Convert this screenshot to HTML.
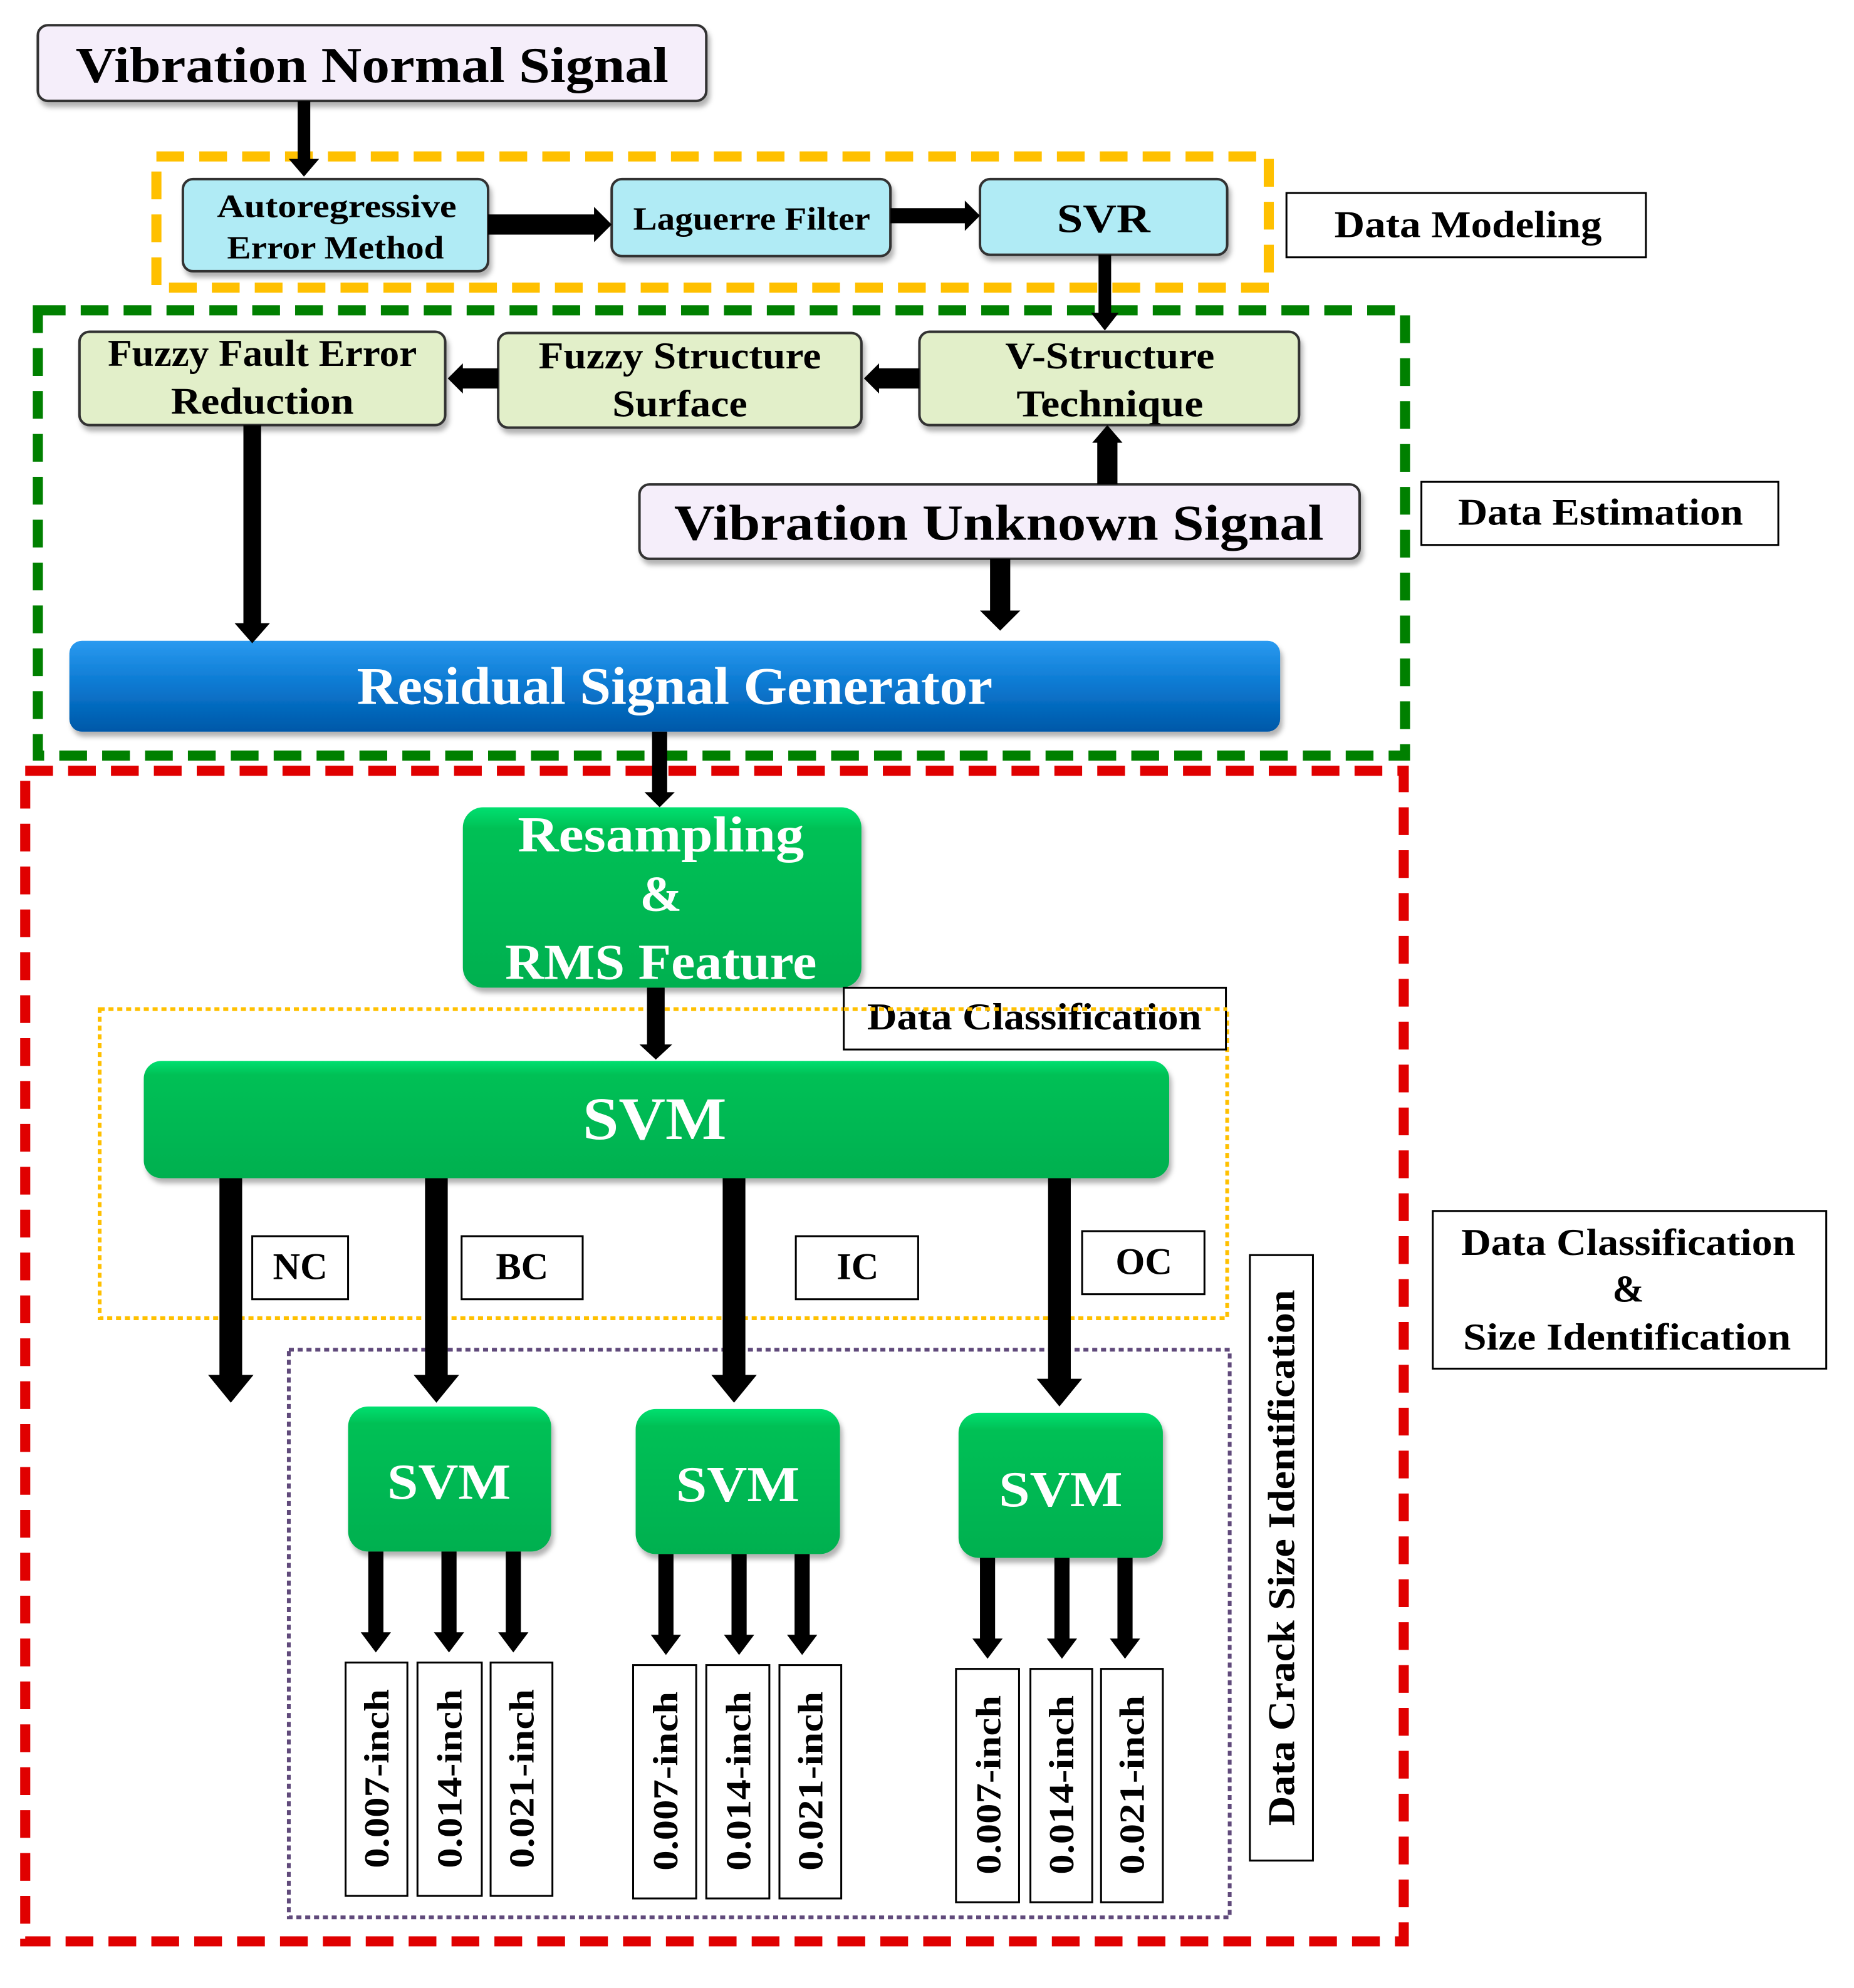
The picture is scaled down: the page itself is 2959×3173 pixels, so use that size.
<!DOCTYPE html>
<html><head><meta charset="utf-8"><style>
html,body{margin:0;padding:0;background:#fff;}
svg{display:block;}
text{font-family:"Liberation Serif",serif;font-weight:bold;}
</style></head><body>
<svg width="2959" height="3173" viewBox="0 0 1470 1576" preserveAspectRatio="none" xmlns="http://www.w3.org/2000/svg">
<defs>
<linearGradient id="blue" x1="0" y1="0" x2="0" y2="1"><stop offset="0" stop-color="#2a9af0"/><stop offset="0.5" stop-color="#0a78d0"/><stop offset="1" stop-color="#0058a8"/></linearGradient>
<linearGradient id="grn" x1="0" y1="0" x2="0" y2="1"><stop offset="0" stop-color="#00e070"/><stop offset="0.12" stop-color="#00c055"/><stop offset="1" stop-color="#00b050"/></linearGradient>
<filter id="sh" x="-5%" y="-5%" width="115%" height="130%"><feDropShadow dx="2" dy="4" stdDeviation="2" flood-color="#000" flood-opacity="0.3"/></filter>
</defs>

<!-- dashed groups -->
<rect x="124" y="124" width="882" height="104" fill="none" stroke="#ffc000" stroke-width="8" stroke-dasharray="22 12"/>
<rect x="30" y="246" width="1084" height="353" fill="none" stroke="#008000" stroke-width="8" stroke-dasharray="22 12"/>
<rect x="20" y="611" width="1093" height="928" fill="none" stroke="#e00000" stroke-width="8" stroke-dasharray="22 12"/>
<rect x="79" y="800" width="894" height="245" fill="none" stroke="#ffc000" stroke-width="3" stroke-dasharray="4 3"/>
<rect x="229" y="1070" width="746" height="450" fill="none" stroke="#604a7b" stroke-width="3" stroke-dasharray="4 3"/>

<!-- top boxes -->
<rect x="30" y="20" width="530" height="60" rx="8" fill="#f5eefa" stroke="#333" stroke-width="2" filter="url(#sh)"/>
<text x="295" y="65" font-size="40" text-anchor="middle" textLength="470" lengthAdjust="spacingAndGlyphs">Vibration Normal Signal</text>

<rect x="145" y="142" width="242" height="73" rx="8" fill="#b0ebf5" stroke="#333" stroke-width="2" filter="url(#sh)"/>
<text x="267" y="172" font-size="26" text-anchor="middle" textLength="190" lengthAdjust="spacingAndGlyphs">Autoregressive</text>
<text x="266" y="205" font-size="26" text-anchor="middle" textLength="172" lengthAdjust="spacingAndGlyphs">Error Method</text>

<rect x="485" y="142" width="221" height="61" rx="8" fill="#b0ebf5" stroke="#333" stroke-width="2" filter="url(#sh)"/>
<text x="596" y="182" font-size="26" text-anchor="middle" textLength="188" lengthAdjust="spacingAndGlyphs">Laguerre Filter</text>

<rect x="777" y="142" width="196" height="60" rx="8" fill="#b0ebf5" stroke="#333" stroke-width="2" filter="url(#sh)"/>
<text x="875" y="184" font-size="32" text-anchor="middle" textLength="74" lengthAdjust="spacingAndGlyphs">SVR</text>

<rect x="1020" y="153" width="285" height="51" fill="#fff" stroke="#000" stroke-width="1.5"/>
<text x="1164" y="188" font-size="30" text-anchor="middle" textLength="212" lengthAdjust="spacingAndGlyphs">Data Modeling</text>

<!-- estimation boxes -->
<rect x="63" y="263" width="290" height="74" rx="8" fill="#e2efc9" stroke="#333" stroke-width="2" filter="url(#sh)"/>
<text x="208" y="290" font-size="30" text-anchor="middle" textLength="245" lengthAdjust="spacingAndGlyphs">Fuzzy Fault Error</text>
<text x="208" y="328" font-size="30" text-anchor="middle" textLength="145" lengthAdjust="spacingAndGlyphs">Reduction</text>

<rect x="395" y="264" width="288" height="75" rx="8" fill="#e2efc9" stroke="#333" stroke-width="2" filter="url(#sh)"/>
<text x="539" y="292" font-size="30" text-anchor="middle" textLength="224" lengthAdjust="spacingAndGlyphs">Fuzzy Structure</text>
<text x="539" y="330" font-size="30" text-anchor="middle" textLength="107" lengthAdjust="spacingAndGlyphs">Surface</text>

<rect x="729" y="263" width="301" height="74" rx="8" fill="#e2efc9" stroke="#333" stroke-width="2" filter="url(#sh)"/>
<text x="880" y="292" font-size="30" text-anchor="middle" textLength="166" lengthAdjust="spacingAndGlyphs">V-Structure</text>
<text x="880" y="330" font-size="30" text-anchor="middle" textLength="148" lengthAdjust="spacingAndGlyphs">Technique</text>

<rect x="507" y="384" width="571" height="59" rx="8" fill="#f5eefa" stroke="#333" stroke-width="2" filter="url(#sh)"/>
<text x="792" y="428" font-size="40" text-anchor="middle" textLength="515" lengthAdjust="spacingAndGlyphs">Vibration Unknown Signal</text>

<rect x="1127" y="382" width="283" height="50" fill="#fff" stroke="#000" stroke-width="1.5"/>
<text x="1269" y="416" font-size="30" text-anchor="middle" textLength="226" lengthAdjust="spacingAndGlyphs">Data Estimation</text>

<rect x="55" y="508" width="960" height="72" rx="10" fill="url(#blue)" filter="url(#sh)"/>
<text x="535" y="558" font-size="42" fill="#fff" text-anchor="middle" textLength="504" lengthAdjust="spacingAndGlyphs">Residual Signal Generator</text>

<!-- classification -->
<rect x="367" y="640" width="316" height="143" rx="16" fill="url(#grn)" filter="url(#sh)"/>
<text x="524" y="675" font-size="40" fill="#fff" text-anchor="middle" textLength="227" lengthAdjust="spacingAndGlyphs">Resampling</text>
<text x="524" y="722" font-size="40" fill="#fff" text-anchor="middle">&amp;</text>
<text x="524" y="776" font-size="40" fill="#fff" text-anchor="middle" textLength="247" lengthAdjust="spacingAndGlyphs">RMS Feature</text>

<rect x="669" y="783" width="303" height="49" fill="#fff" stroke="#000" stroke-width="1.5"/>
<text x="820" y="816" font-size="30" text-anchor="middle" textLength="265" lengthAdjust="spacingAndGlyphs">Data Classification</text>
<line x1="669" y1="800" x2="973" y2="800" stroke="#ffc000" stroke-width="3" stroke-dasharray="4 3"/>

<rect x="114" y="841" width="813" height="93" rx="14" fill="url(#grn)" filter="url(#sh)"/>
<text x="519" y="903" font-size="48" fill="#fff" text-anchor="middle" textLength="114" lengthAdjust="spacingAndGlyphs">SVM</text>

<rect x="200" y="980" width="76" height="50" fill="#fff" stroke="#000" stroke-width="1.5"/>
<text x="238" y="1014" font-size="30" text-anchor="middle">NC</text>
<rect x="366" y="980" width="96" height="50" fill="#fff" stroke="#000" stroke-width="1.5"/>
<text x="414" y="1014" font-size="30" text-anchor="middle">BC</text>
<rect x="631" y="980" width="97" height="50" fill="#fff" stroke="#000" stroke-width="1.5"/>
<text x="680" y="1014" font-size="30" text-anchor="middle">IC</text>
<rect x="858" y="976" width="97" height="50" fill="#fff" stroke="#000" stroke-width="1.5"/>
<text x="907" y="1010" font-size="30" text-anchor="middle">OC</text>

<rect x="276" y="1115" width="161" height="115" rx="16" fill="url(#grn)" filter="url(#sh)"/>
<text x="356" y="1188" font-size="40" fill="#fff" text-anchor="middle" textLength="98" lengthAdjust="spacingAndGlyphs">SVM</text>
<rect x="504" y="1117" width="162" height="115" rx="16" fill="url(#grn)" filter="url(#sh)"/>
<text x="585" y="1190" font-size="40" fill="#fff" text-anchor="middle" textLength="98" lengthAdjust="spacingAndGlyphs">SVM</text>
<rect x="760" y="1120" width="162" height="115" rx="16" fill="url(#grn)" filter="url(#sh)"/>
<text x="841" y="1194" font-size="40" fill="#fff" text-anchor="middle" textLength="98" lengthAdjust="spacingAndGlyphs">SVM</text>

<!-- inch boxes -->
<g fill="#fff" stroke="#000" stroke-width="1.5">
<rect x="274" y="1318" width="49" height="185"/><rect x="331" y="1318" width="51" height="185"/><rect x="389" y="1318" width="49" height="185"/>
<rect x="502" y="1320" width="50" height="185"/><rect x="560" y="1320" width="50" height="185"/><rect x="618" y="1320" width="49" height="185"/>
<rect x="758" y="1323" width="50" height="185"/><rect x="817" y="1323" width="49" height="185"/><rect x="873" y="1323" width="49" height="185"/>
</g>
<g font-size="28" text-anchor="middle">
<text transform="translate(298,1410) rotate(-90)" dy="10" textLength="142" lengthAdjust="spacingAndGlyphs">0.007-inch</text>
<text transform="translate(356,1410) rotate(-90)" dy="10" textLength="142" lengthAdjust="spacingAndGlyphs">0.014-inch</text>
<text transform="translate(413,1410) rotate(-90)" dy="10" textLength="142" lengthAdjust="spacingAndGlyphs">0.021-inch</text>
<text transform="translate(527,1412) rotate(-90)" dy="10" textLength="142" lengthAdjust="spacingAndGlyphs">0.007-inch</text>
<text transform="translate(585,1412) rotate(-90)" dy="10" textLength="142" lengthAdjust="spacingAndGlyphs">0.014-inch</text>
<text transform="translate(642,1412) rotate(-90)" dy="10" textLength="142" lengthAdjust="spacingAndGlyphs">0.021-inch</text>
<text transform="translate(783,1415) rotate(-90)" dy="10" textLength="142" lengthAdjust="spacingAndGlyphs">0.007-inch</text>
<text transform="translate(841,1415) rotate(-90)" dy="10" textLength="142" lengthAdjust="spacingAndGlyphs">0.014-inch</text>
<text transform="translate(897,1415) rotate(-90)" dy="10" textLength="142" lengthAdjust="spacingAndGlyphs">0.021-inch</text>
</g>

<rect x="991" y="995" width="50" height="480" fill="#fff" stroke="#000" stroke-width="1.5"/>
<text transform="translate(1016,1235) rotate(-90)" dy="10" font-size="30" text-anchor="middle" textLength="425" lengthAdjust="spacingAndGlyphs">Data Crack Size Identification</text>

<rect x="1136" y="960" width="312" height="125" fill="#fff" stroke="#000" stroke-width="1.5"/>
<text x="1291" y="995" font-size="30" text-anchor="middle" textLength="265" lengthAdjust="spacingAndGlyphs">Data Classification</text>
<text x="1291" y="1032" font-size="30" text-anchor="middle">&amp;</text>
<text x="1290" y="1070" font-size="30" text-anchor="middle" textLength="260" lengthAdjust="spacingAndGlyphs">Size Identification</text>

<!-- arrows -->
<g fill="#000">
<polygon points="236,80 246,80 246,126 253,126 241,140 229,126 236,126"/>
<polygon points="387,170 471,170 471,164 485,178 471,192 471,186 387,186"/>
<polygon points="706,165 765,165 765,159 777,171 765,183 765,177 706,177"/>
<polygon points="871,202 881,202 881,248 887,248 876,262 865,248 871,248"/>
<polygon points="395,292 367,292 367,288 355,300 367,312 367,308 395,308"/>
<polygon points="729,292 697,292 697,288 685,300 697,312 697,308 729,308"/>
<polygon points="870,384 886,384 886,351 890,351 878,337 866,351 870,351"/>
<polygon points="785,443 801,443 801,484 809,484 793,500 777,484 785,484"/>
<polygon points="193,337 207,337 207,494 214,494 200,510 186,494 193,494"/>
<polygon points="517,580 529,580 529,628 535,628 523,640 511,628 517,628"/>
<polygon points="513,783 527,783 527,828 533,828 520,840 507,828 513,828"/>
<polygon points="174,934 192,934 192,1090 201,1090 183,1112 165,1090 174,1090"/>
<polygon points="337,934 355,934 355,1090 364,1090 346,1112 328,1090 337,1090"/>
<polygon points="573,934 591,934 591,1090 600,1090 582,1112 564,1090 573,1090"/>
<polygon points="831,934 849,934 849,1093 858,1093 840,1115 822,1093 831,1093"/>
<polygon points="292,1230 304,1230 304,1294 310,1294 298,1310 286,1294 292,1294"/>
<polygon points="350,1230 362,1230 362,1294 368,1294 356,1310 344,1294 350,1294"/>
<polygon points="401,1230 413,1230 413,1294 419,1294 407,1310 395,1294 401,1294"/>
<polygon points="522,1232 534,1232 534,1296 540,1296 528,1312 516,1296 522,1296"/>
<polygon points="580,1232 592,1232 592,1296 598,1296 586,1312 574,1296 580,1296"/>
<polygon points="630,1232 642,1232 642,1296 648,1296 636,1312 624,1296 630,1296"/>
<polygon points="777,1235 789,1235 789,1299 795,1299 783,1315 771,1299 777,1299"/>
<polygon points="836,1235 848,1235 848,1299 854,1299 842,1315 830,1299 836,1299"/>
<polygon points="886,1235 898,1235 898,1299 904,1299 892,1315 880,1299 886,1299"/>
</g>
</svg>
</body></html>
